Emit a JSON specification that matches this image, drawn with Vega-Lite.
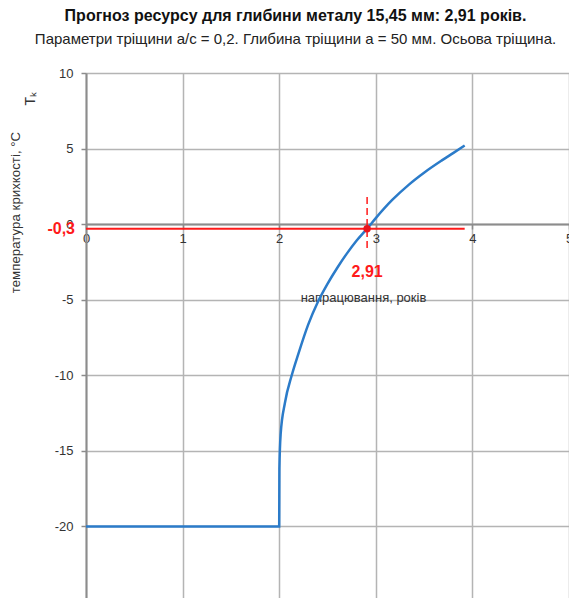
{
  "$schema": "https://vega.github.io/schema/vega-lite/v6.json",
  "width": 483,
  "height": 529,
  "autosize": {"type": "none"},
  "padding": {"left": 86, "top": 73, "right": 0, "bottom": 0},
  "background": "white",
  "config": {
    "font": "Liberation Sans",
    "locale": {"number": {"decimal": ",", "thousands": " ", "grouping": [3], "currency": ["", ""], "minus": "-"}},
    "view": {"stroke": null},
    "axis": {
      "gridColor": "#b4b4b4",
      "gridWidth": 1.5,
      "domainColor": "#8c8c8c",
      "domainWidth": 2,
      "tickColor": "#8c8c8c",
      "tickWidth": 1.5,
      "tickSize": 5,
      "labelFont": "Liberation Sans",
      "labelFontSize": 13,
      "labelColor": "#333333",
      "titleFont": "Liberation Sans",
      "titleFontWeight": "normal",
      "titleColor": "#333333"
    }
  },
  "title": {
    "text": "Прогноз ресурсу для глибини металу 15,45 мм: 2,91 років.",
    "subtitle": "Параметри тріщини a/c = 0,2. Глибина тріщини a = 50 мм. Осьова тріщина.",
    "font": "Liberation Sans",
    "subtitleFont": "Liberation Sans",
    "fontSize": 16,
    "fontWeight": "bold",
    "color": "#111111",
    "subtitleFontSize": 15,
    "subtitleFontWeight": "normal",
    "subtitleColor": "#222222",
    "subtitlePadding": 8,
    "anchor": "middle",
    "dx": -32,
    "offset": 20
  },
  "datasets": {
    "curve": [
      {"t": 0, "tk": -20},
      {"t": 1, "tk": -20},
      {"t": 2, "tk": -20},
      {"t": 2.002, "tk": -16.2},
      {"t": 2.015, "tk": -13.9},
      {"t": 2.06, "tk": -11.8},
      {"t": 2.13, "tk": -10.0},
      {"t": 2.2, "tk": -8.55},
      {"t": 2.3, "tk": -6.65},
      {"t": 2.4, "tk": -5.15},
      {"t": 2.5, "tk": -3.95},
      {"t": 2.6, "tk": -2.9},
      {"t": 2.7, "tk": -1.95},
      {"t": 2.8, "tk": -1.1},
      {"t": 2.91, "tk": -0.3},
      {"t": 3.0, "tk": 0.4},
      {"t": 3.17, "tk": 1.6},
      {"t": 3.34, "tk": 2.6},
      {"t": 3.51, "tk": 3.45},
      {"t": 3.68, "tk": 4.2},
      {"t": 3.8, "tk": 4.7},
      {"t": 3.92, "tk": 5.2}
    ],
    "level": [{"t": 0, "t2": 3.92, "tk": -0.3}],
    "mark": [{"t": 2.91, "tk": -0.3, "top": 1.8, "bottom": -1.7, "label": "2,91"}],
    "levelLabel": [{"t": 0, "tk": -0.3, "label": "-0,3"}],
    "sym": [{"t": 0, "tk": 8.3, "label": "Tₖ"}]
  },
  "layer": [
    {
      "data": {"name": "curve"},
      "mark": {"type": "line", "color": "#2b7bc9", "strokeWidth": 2.5, "interpolate": "monotone"},
      "encoding": {
        "x": {
          "field": "t", "type": "quantitative",
          "scale": {"domain": [0, 5], "nice": false},
          "axis": {
            "values": [0, 1, 2, 3, 4, 5],
            "format": "d",
            "orient": "bottom",
            "offset": -378,
            "labelFlush": false,
            "labelPadding": 3,
            "title": "напрацювання, років",
            "titleFontSize": 13,
            "titleX": 277,
            "titleY": 73,
            "titleBaseline": "middle",
            "titleAnchor": null
          }
        },
        "y": {
          "field": "tk", "type": "quantitative",
          "scale": {"domain": [-25, 10], "nice": false, "zero": false},
          "axis": {
            "values": [-25, -20, -15, -10, -5, 0, 5, 10],
            "format": "d",
            "labelPadding": 8,
            "title": "температура крихкості, °С",
            "titleFontSize": 13.3,
            "titleX": -71,
            "titleY": 139,
            "titleBaseline": "middle",
            "titleAnchor": null
          }
        }
      }
    },
    {
      "data": {"name": "level"},
      "mark": {"type": "rule", "color": "#ff1a1a", "strokeWidth": 2},
      "encoding": {
        "x": {"field": "t", "type": "quantitative"},
        "x2": {"field": "t2"},
        "y": {"field": "tk", "type": "quantitative"}
      }
    },
    {
      "data": {"name": "mark"},
      "mark": {"type": "rule", "color": "#ff1a1a", "strokeWidth": 1.5, "strokeDash": [7, 4]},
      "encoding": {
        "x": {"field": "t", "type": "quantitative"},
        "y": {"field": "top", "type": "quantitative"},
        "y2": {"field": "bottom"}
      }
    },
    {
      "data": {"name": "mark"},
      "mark": {"type": "point", "filled": true, "color": "#e8141c", "size": 55, "opacity": 1},
      "encoding": {
        "x": {"field": "t", "type": "quantitative"},
        "y": {"field": "tk", "type": "quantitative"}
      }
    },
    {
      "data": {"name": "mark"},
      "mark": {"type": "text", "color": "#ff1a1a", "fontSize": 16, "fontWeight": "bold", "dy": 43, "baseline": "middle", "align": "center"},
      "encoding": {
        "x": {"field": "t", "type": "quantitative"},
        "y": {"field": "tk", "type": "quantitative"},
        "text": {"field": "label"}
      }
    },
    {
      "data": {"name": "levelLabel"},
      "mark": {"type": "text", "color": "#ff1a1a", "fontSize": 16, "fontWeight": "bold", "dx": -11, "baseline": "middle", "align": "right"},
      "encoding": {
        "x": {"field": "t", "type": "quantitative"},
        "y": {"field": "tk", "type": "quantitative"},
        "text": {"field": "label"}
      }
    },
    {
      "data": {"name": "sym"},
      "mark": {"type": "text", "color": "#333333", "fontSize": 14, "angle": 270, "dy": -55, "baseline": "middle", "align": "center"},
      "encoding": {
        "x": {"field": "t", "type": "quantitative"},
        "y": {"field": "tk", "type": "quantitative"},
        "text": {"field": "label"}
      }
    }
  ]
}
